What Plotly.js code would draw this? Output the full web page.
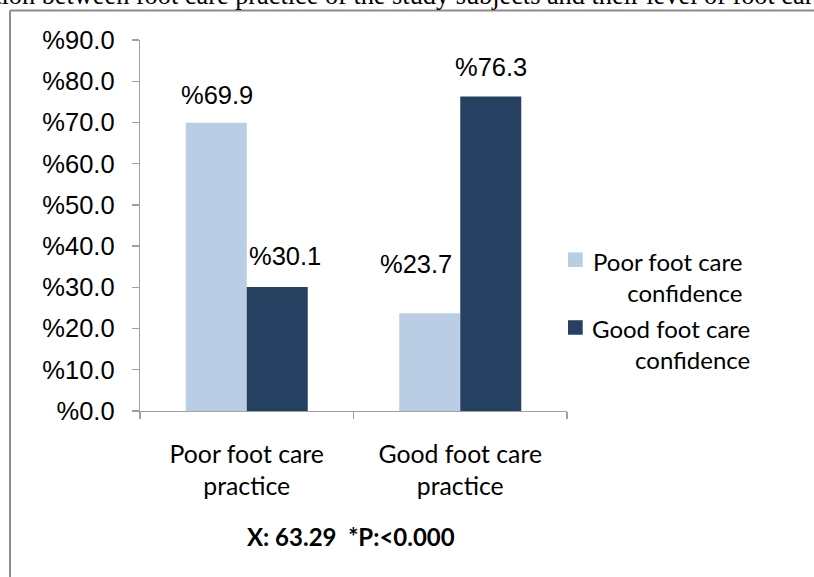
<!DOCTYPE html>
<html><head><meta charset="utf-8">
<script src="https://cdn.plot.ly/plotly-3.0.1.min.js"></script>
<style>html,body{margin:0;padding:0;background:#fff}#chart{width:814px;height:577px}</style>
</head><body><div id="chart"></div>
<script>
// ---- data ----
const categories = ["Poor foot care<br>practice", "Good foot care<br>practice"];
const seriesNames = ["Poor foot care<br>confidence", "Good foot care<br>confidence"];
const poorConfidence = [69.9, 23.7];
const goodConfidence = [30.1, 76.3];
const tickValues = [0, 10, 20, 30, 40, 50, 60, 70, 80, 90];
const tickLabels = ["%0.0", "%10.0", "%20.0", "%30.0", "%40.0", "%50.0", "%60.0", "%70.0", "%80.0", "%90.0"];
const titleText = "Relation between foot care practice of the study subjects and their level of foot care confidence";
const statText = "X: 63.29\u00a0 *P:&lt;0.000";

// ---- styling / layout helpers ----
const colors = ["#B9CDE5", "#254061"];
const W = 814, H = 577;
const L = 140, R = 567, T = 40, B = 410.7;
const xp = X => (X - L) / (R - L);
const yp = Y => (B - Y) / (B - T);
const calib = "Lato, 'Open Sans', sans-serif";
const arial = "'Liberation Sans', Arial, sans-serif";

const traces = [poorConfidence, goodConfidence].map((vals, i) => ({
  type: "bar",
  x: categories,
  y: vals,
  name: seriesNames[i],
  marker: {color: colors[i], line: {width: 0}},
  showlegend: false,
  hoverinfo: "none"
}));

// data label offsets (px) relative to category centre / bar top
const labelShift = [
  [{dx: -30, dy: 28}, {dx: -44.5, dy: 49}],
  [{dx: 38.5, dy: 31}, {dx: 30.5, dy: 29}]
];
const annotations = [];
[poorConfidence, goodConfidence].forEach((vals, s) => {
  vals.forEach((v, c) => {
    annotations.push({
      x: categories[c], y: v, xref: "x", yref: "y",
      text: "%" + v.toFixed(1), showarrow: false,
      xanchor: "center", yanchor: "middle",
      xshift: labelShift[s][c].dx, yshift: labelShift[s][c].dy,
      font: {family: arial, size: 25.5, color: "#000"}
    });
  });
});

// custom legend (right aligned wrapped text)
const legendPos = [{right: 744, top: 244.5, sw: 252.3}, {right: 751.7, top: 312, sw: 320}];
const shapes = [];
seriesNames.forEach((n, i) => {
  annotations.push({
    x: xp(legendPos[i].right), y: yp(legendPos[i].top), xref: "paper", yref: "paper",
    xanchor: "right", yanchor: "top", align: "right", showarrow: false,
    text: n, font: {family: calib, size: 24, color: "#000"}
  });
  shapes.push({type: "rect", xref: "paper", yref: "paper",
    x0: xp(568), x1: xp(582.7), y0: yp(legendPos[i].sw), y1: yp(legendPos[i].sw + 14.5),
    fillcolor: colors[i], line: {width: 0}});
});

// stat text
annotations.push({
  x: xp(351), y: yp(536), xref: "paper", yref: "paper",
  xanchor: "center", yanchor: "middle", showarrow: false,
  text: "<b>" + statText + "</b>", font: {family: calib, size: 24, color: "#000"}
});
// clipped title above the frame
annotations.push({
  x: xp(-56), y: yp(12.5), xref: "paper", yref: "paper",
  xanchor: "left", yanchor: "bottom", showarrow: false,
  text: titleText, font: {family: "'Liberation Serif', 'Times New Roman', serif", size: 26.3, color: "#000"}
});

// frame (top and left border)
shapes.push({type: "line", xref: "paper", yref: "paper", x0: xp(10), x1: xp(820), y0: yp(10.5), y1: yp(10.5), line: {color: "#8c8c8c", width: 2}});
shapes.push({type: "line", xref: "paper", yref: "paper", x0: xp(10), x1: xp(10), y0: yp(10.5), y1: yp(590), line: {color: "#8c8c8c", width: 2}});

const layout = {
  width: W, height: H,
  margin: {l: L, r: W - R, t: T, b: H - B, pad: 0},
  paper_bgcolor: "#fff", plot_bgcolor: "#fff",
  barmode: "group", bargap: 0.4286, bargroupgap: 0,
  showlegend: false,
  xaxis: {
    type: "category", range: [-0.5, 1.5],
    showline: true, linecolor: "#a0a0a0", linewidth: 1.3,
    ticks: "outside", tickson: "boundaries", ticklen: 7, tickcolor: "#a0a0a0", tickwidth: 1.3,
    showgrid: false, zeroline: false,
    tickfont: {family: calib, size: 24.8, color: "#000"},
    ticklabelstandoff: 21
  },
  yaxis: {
    range: [0, 90], tickvals: tickValues, ticktext: tickLabels,
    showline: true, linecolor: "#a0a0a0", linewidth: 1.3,
    ticks: "outside", ticklen: 7, tickcolor: "#a0a0a0", tickwidth: 1.3,
    showgrid: false, zeroline: false,
    tickfont: {family: arial, size: 25.5, color: "#000"},
    ticklabelstandoff: 12
  },
  annotations: annotations,
  shapes: shapes
};

Plotly.newPlot("chart", traces, layout, {staticPlot: true, displayModeBar: false});
</script>
</body></html>
